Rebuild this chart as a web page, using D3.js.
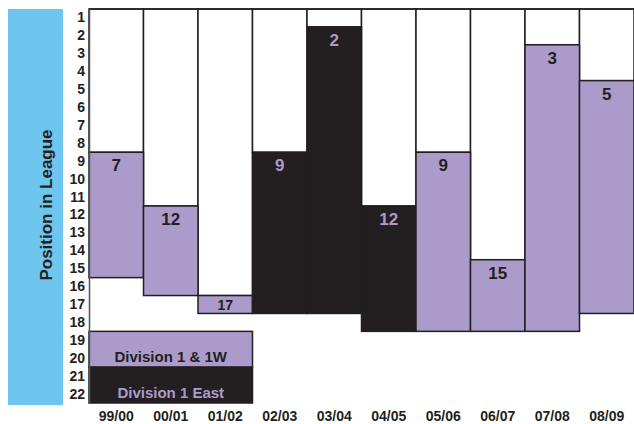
<!DOCTYPE html>
<html>
<head>
<meta charset="utf-8">
<script src="https://cdn.jsdelivr.net/npm/d3@7"></script>
<style>
    body { margin: 0; background: #fff; }
    text { font-family: "Liberation Sans", Arial, sans-serif; font-weight: bold; }
</style>
</head>
<body>
<svg id="chart" width="634" height="424"></svg>
<script>
//season data
const seasons = ["99/00", "00/01", "01/02", "02/03", "03/04", "04/05", "05/06", "06/07", "07/08", "08/09"];
const finish = [7, 12, 17, 9, 2, 12, 9, 15, 3, 5];
const barTop = [8, 11, 16, 8, 1, 11, 8, 14, 2, 4]; //where the coloured block starts
const leagueSize = [15, 16, 17, 17, 17, 18, 18, 18, 18, 17];
const division = ["1W", "1W", "1W", "East", "East", "East", "1W", "1W", "1W", "1W"];
const rows = d3.range(1, 23);
const legendItems = ["Division 1 & 1W", "Division 1 East"];

const purple = "#ab9bcb";
const black = "#231f20";
const blue = "#6ec6ef";

const svg = d3.select("#chart");

let x = d3.scaleBand().domain(seasons).range([89, 634]);
let y = d3.scaleLinear().domain([0, 22]).range([9, 403]);
let rowScale = d3.scaleBand().domain(rows).range([9, 403]);

//blue label box
svg.append("rect")
    .attr("x", 8).attr("y", 9)
    .attr("width", 55).attr("height", 396)
    .attr("fill", blue);

svg.append("text")
    .attr("transform", "translate(52,205) rotate(-90)")
    .attr("text-anchor", "middle")
    .attr("font-size", 17)
    .attr("fill", black)
    .text("Position in League");

let data = seasons.map(function (s, i) {
    return {season: s, finish: finish[i], top: barTop[i], bottom: leagueSize[i], div: division[i]};
});

//white part above each bar
svg.append("g").selectAll("rect")
    .data(data)
    .enter()
    .append("rect")
    .attr("x", d => x(d.season))
    .attr("y", y(0))
    .attr("width", x.bandwidth())
    .attr("height", d => y(d.top) - y(0))
    .attr("fill", "#fff")
    .attr("stroke", black)
    .attr("stroke-width", 1.5);

//coloured bars
svg.append("g").selectAll("rect")
    .data(data)
    .enter()
    .append("rect")
    .attr("x", d => x(d.season))
    .attr("y", d => y(d.top))
    .attr("width", x.bandwidth())
    .attr("height", d => y(d.bottom) - y(d.top))
    .attr("fill", d => d.div === "East" ? black : purple)
    .attr("stroke", black)
    .attr("stroke-width", 1.5);

//finishing position labels
svg.append("g").selectAll("text")
    .data(data)
    .enter()
    .append("text")
    .attr("x", d => x(d.season) + x.bandwidth() / 2)
    .attr("y", function (d) {
        return (d.bottom - d.top) < 2 ? y(d.top) + 14 : y(d.top) + 19;
    })
    .attr("text-anchor", "middle")
    .attr("font-size", d => (d.bottom - d.top) < 2 ? 14 : 17)
    .attr("fill", d => d.div === "East" ? purple : black)
    .text(d => d.finish);

//top line
svg.append("line")
    .attr("x1", 89).attr("x2", 634)
    .attr("y1", y(0)).attr("y2", y(0))
    .attr("stroke", black)
    .attr("stroke-width", 1.5);

//legend
let legendX = x(seasons[0]);
let legendW = x(seasons[2]) + x.bandwidth() - legendX;
let legend = svg.append("g");
legend.selectAll("rect")
    .data(legendItems)
    .enter()
    .append("rect")
    .attr("x", legendX)
    .attr("y", (d, i) => y(18 + i * 2))
    .attr("width", legendW)
    .attr("height", y(2) - y(0))
    .attr("fill", (d, i) => i === 0 ? purple : black)
    .attr("stroke", black)
    .attr("stroke-width", 1.5);
legend.selectAll("text")
    .data(legendItems)
    .enter()
    .append("text")
    .attr("x", legendX + legendW / 2)
    .attr("y", (d, i) => y(20 + i * 2) - 5)
    .attr("text-anchor", "middle")
    .attr("font-size", 15)
    .attr("fill", (d, i) => i === 0 ? black : purple)
    .text(d => d);

//axes
let yAxis = svg.append("g")
    .attr("transform", "translate(89,0)")
    .call(d3.axisLeft(rowScale).tickSize(0).tickSizeOuter(0).tickPadding(4));
yAxis.select(".domain").attr("stroke", "#555").attr("stroke-width", 1.5);
yAxis.selectAll("text")
    .attr("font-size", 14)
    .attr("font-family", "Liberation Sans, Arial, sans-serif")
    .attr("fill", black);

let xAxis = svg.append("g")
    .attr("transform", "translate(0,403)")
    .call(d3.axisBottom(x).tickSize(0).tickPadding(8));
xAxis.select(".domain").remove();
xAxis.selectAll("text")
    .attr("font-size", 14)
    .attr("font-family", "Liberation Sans, Arial, sans-serif")
    .attr("fill", black);
</script>
</body>
</html>
